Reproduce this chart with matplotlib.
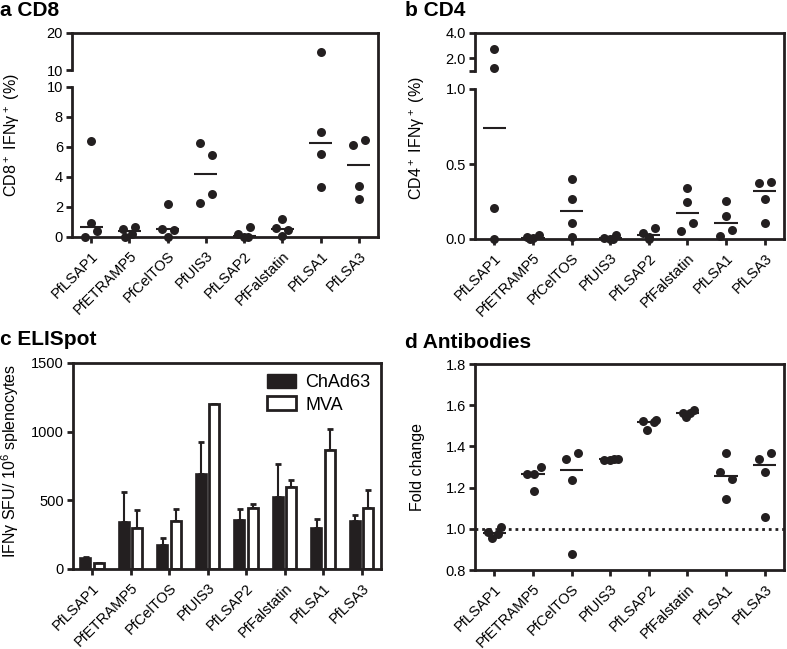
import numpy as np
import matplotlib
matplotlib.use('Agg')
import matplotlib.pyplot as plt
from matplotlib.patches import Patch

plt.rcParams['font.family'] = ['Liberation Sans', 'DejaVu Sans']
plt.rcParams['mathtext.default'] = 'regular'

antigens = ['PfLSAP1', 'PfETRAMP5', 'PfCelTOS', 'PfUIS3', 'PfLSAP2',
            'PfFalstatin', 'PfLSA1', 'PfLSA3']

# a CD8+ IFNy+ (%), four mice per antigen
cd8 = [[6.43, 0.94, 0.40, 0.0], [0.52, 0.67, 0.22, 0.0], [2.19, 0.54, 0.47, 0.0],
       [6.29, 5.49, 2.28, 2.86], [0.18, 0.0, 0.67, 0.0], [1.2, 0.62, 0.45, 0.04],
       [15.0, 7.03, 5.54, 3.35], [6.14, 6.47, 3.42, 2.52]]
# b CD4+ IFNy+ (%)
cd4 = [[2.75, 1.27, 0.209, 0.0], [0.011, 0.004, 0.027, 0.0], [0.398, 0.264, 0.104, 0.016],
       [0.008, 0.0, 0.024, 0.003], [0.042, 0.071, 0.011, 0.0], [0.338, 0.249, 0.056, 0.104],
       [0.253, 0.156, 0.02, 0.06], [0.371, 0.382, 0.267, 0.104]]
# c ELISpot, mean and upper SEM
chad = [78, 341, 175, 695, 358, 522, 297, 353]
chad_err = [8, 217, 52, 231, 78, 246, 69, 42]
mva = [41, 297, 346, 1202, 446, 595, 868, 443]
mva_err = [5, 129, 93, 0, 27, 51, 153, 135]
# d antibody fold change
fold = [[0.984, 0.953, 0.977, 1.01], [1.265, 1.265, 1.30, 1.184], [1.34, 1.368, 1.235, 0.88],
        [1.335, 1.332, 1.338, 1.34], [1.523, 1.481, 1.518, 1.526], [1.563, 1.542, 1.561, 1.577],
        [1.368, 1.276, 1.24, 1.144], [1.34, 1.368, 1.276, 1.055]]

# horizontal spread of overlapping dots (in dot slots)
cd8_slots = [[0, 0, 1, -1], [-1, 1, 0.5, -0.7], [0, -1, 1, 0], [-1, 1, -1, 1],
             [-1, 0, 1, 0.6], [0, -1, 1, 0], [0, 0, 0, 0], [-1, 1, 0, 0]]
cd4_slots = [[0, 0, 0, 0], [-1, 0, 1, -0.5], [0, 0, 0, 0], [-1, 0, 1, 0.5],
             [-1, 1, 0, 0], [0, 0, -1, 1], [0, 0, -1, 1], [-1, 1, 0, 0]]
fold_slots = [[-1, -0.4, 0.6, 1.2], [-1, 0.2, 1.3, 0.2], [-1, 1, 0, 0], [-1, 0, 0.7, 1.3],
              [-1, -0.3, 0.8, 1.2], [-0.7, -0.3, 0.45, 1.1], [0, -1, 1, 0], [-1, 1, 0, 0]]

INK = '#231f20'
STEP = 0.155
W, H = 787, 649
fig = plt.figure(figsize=(W / 100, H / 100), dpi=100)


def box(l, t, r, b):
    return [l / W, 1 - b / H, (r - l) / W, (b - t) / H]


def style(ax, bottom=True):
    ax.patch.set_visible(False)
    ax.spines['top'].set_visible(False)
    ax.spines['right'].set_visible(False)
    ax.spines['bottom'].set_visible(bottom)
    for sp in ax.spines.values():
        sp.set_linewidth(2)
        sp.set_color(INK)
        sp.set_capstyle('projecting')
    ax.tick_params(width=2, length=4.5, color=INK, labelsize=10.5, pad=2, labelcolor='black')
    ax.set_xlim(-0.5, 7.5)
    if bottom:
        ax.set_xticks(range(len(antigens)))
        ax.set_xticklabels(antigens, rotation=45, ha='right', rotation_mode='anchor')
        ax.tick_params(axis='x', pad=4)
    else:
        ax.tick_params(bottom=False, labelbottom=False)


def frame(rect):
    fa = fig.add_axes(rect, zorder=0)
    fa.patch.set_visible(False)
    fa.set_xticks([])
    fa.set_yticks([])
    fa.spines['left'].set_visible(False)
    fa.spines['bottom'].set_visible(False)
    for s in ['top', 'right']:
        fa.spines[s].set_linewidth(2)
        fa.spines[s].set_color(INK)
        fa.spines[s].set_capstyle('projecting')
    return fa


def dots(lower, upper, data, slots, cut):
    for i, (v, sl) in enumerate(zip(data, slots)):
        v = np.array(v)
        x = i + np.array(sl) * STEP
        lo = v <= cut
        lower.scatter(x[lo], v[lo], s=42, color=INK, linewidths=0, clip_on=False, zorder=3)
        if upper is not None and (~lo).any():
            upper.scatter(x[~lo], v[~lo], s=42, color=INK, linewidths=0, clip_on=False, zorder=3)
        lower.hlines(np.median(v), i - 0.3, i + 0.3, color=INK, lw=1.5, zorder=2)


# a CD8
frame(box(72, 33, 378, 237))
a_lo = fig.add_axes(box(72, 87, 378, 237))
a_hi = fig.add_axes(box(72, 33, 378, 70))
style(a_lo)
style(a_hi, bottom=False)
a_lo.set_ylim(0, 10)
a_lo.set_yticks([0, 2, 4, 6, 8, 10])
a_hi.set_ylim(10, 20)
a_hi.set_yticks([10, 20])
dots(a_lo, a_hi, cd8, cd8_slots, 10)
fig.text(12 / W, 1 - 135 / H, 'CD8$^+$ IFNγ$^+$ (%)', rotation=90, fontsize=11.5,
         ha='center', va='center')
fig.text(0, 1 - 16 / H, 'a CD8', fontsize=15, fontweight='bold')

# b CD4
frame(box(475, 33, 784, 239))
b_lo = fig.add_axes(box(475, 89, 784, 239))
b_hi = fig.add_axes(box(475, 33, 784, 71))
style(b_lo)
style(b_hi, bottom=False)
b_lo.set_ylim(0, 1.0)
b_lo.set_yticks([0, 0.5, 1.0])
b_lo.set_yticklabels(['0.0', '0.5', '1.0'])
b_hi.set_ylim(1.0, 4.0)
b_hi.set_yticks([1.0, 2.0, 4.0])
b_hi.set_yticklabels(['', '2.0', '4.0'])
dots(b_lo, b_hi, cd4, cd4_slots, 1.0)
fig.text(417 / W, 1 - 138 / H, 'CD4$^+$ IFNγ$^+$ (%)', rotation=90, fontsize=11.5,
         ha='center', va='center')
fig.text(405 / W, 1 - 16 / H, 'b CD4', fontsize=15, fontweight='bold')

# c ELISpot
frame(box(73, 363, 381, 569))
c = fig.add_axes(box(73, 363, 381, 569))
style(c)
c.set_ylim(0, 1500)
c.set_yticks([0, 500, 1000, 1500])
x = np.arange(len(antigens))
c.errorbar(x - 0.17, chad, yerr=[np.zeros(8), chad_err], fmt='none', ecolor=INK,
           elinewidth=1.5, capsize=2.5, capthick=2, zorder=1)
c.errorbar(x + 0.17, mva, yerr=[np.zeros(8), mva_err], fmt='none', ecolor=INK,
           elinewidth=1.5, capsize=2.5, capthick=2, zorder=1)
c.bar(x - 0.17, chad, width=0.29, color=INK, edgecolor=INK, lw=1.2, zorder=2)
c.bar(x + 0.17, mva, width=0.27, facecolor='white', edgecolor=INK, lw=2, zorder=2)
c.legend(handles=[Patch(facecolor=INK, edgecolor=INK, label='ChAd63'),
                  Patch(facecolor='white', edgecolor=INK, lw=2, label='MVA')],
         loc='upper right', frameon=False, fontsize=13, handlelength=1.6,
         handleheight=0.8, handletextpad=0.5, labelspacing=0.3, borderaxespad=0.2)
fig.text(10 / W, 1 - 461 / H, 'IFNγ SFU/ 10$^6$ splenocytes', rotation=90, fontsize=11.5,
         ha='center', va='center')
fig.text(0, 1 - 345 / H, 'c ELISpot', fontsize=15, fontweight='bold')

# d Antibodies
frame(box(475, 364, 784, 570))
d = fig.add_axes(box(475, 364, 784, 570))
style(d)
d.set_ylim(0.8, 1.8)
d.set_yticks(np.arange(0.8, 1.81, 0.2))
d.set_yticklabels(['%.1f' % t for t in np.arange(0.8, 1.81, 0.2)])
d.axhline(1.0, color=INK, lw=2, ls=(0, (1, 1.4)), zorder=1)
dots(d, None, fold, fold_slots, 10)
fig.text(418 / W, 1 - 467 / H, 'Fold change', rotation=90, fontsize=11.5,
         ha='center', va='center')
fig.text(405 / W, 1 - 348 / H, 'd Antibodies', fontsize=15, fontweight='bold')

fig.savefig('out.png', dpi=100)
